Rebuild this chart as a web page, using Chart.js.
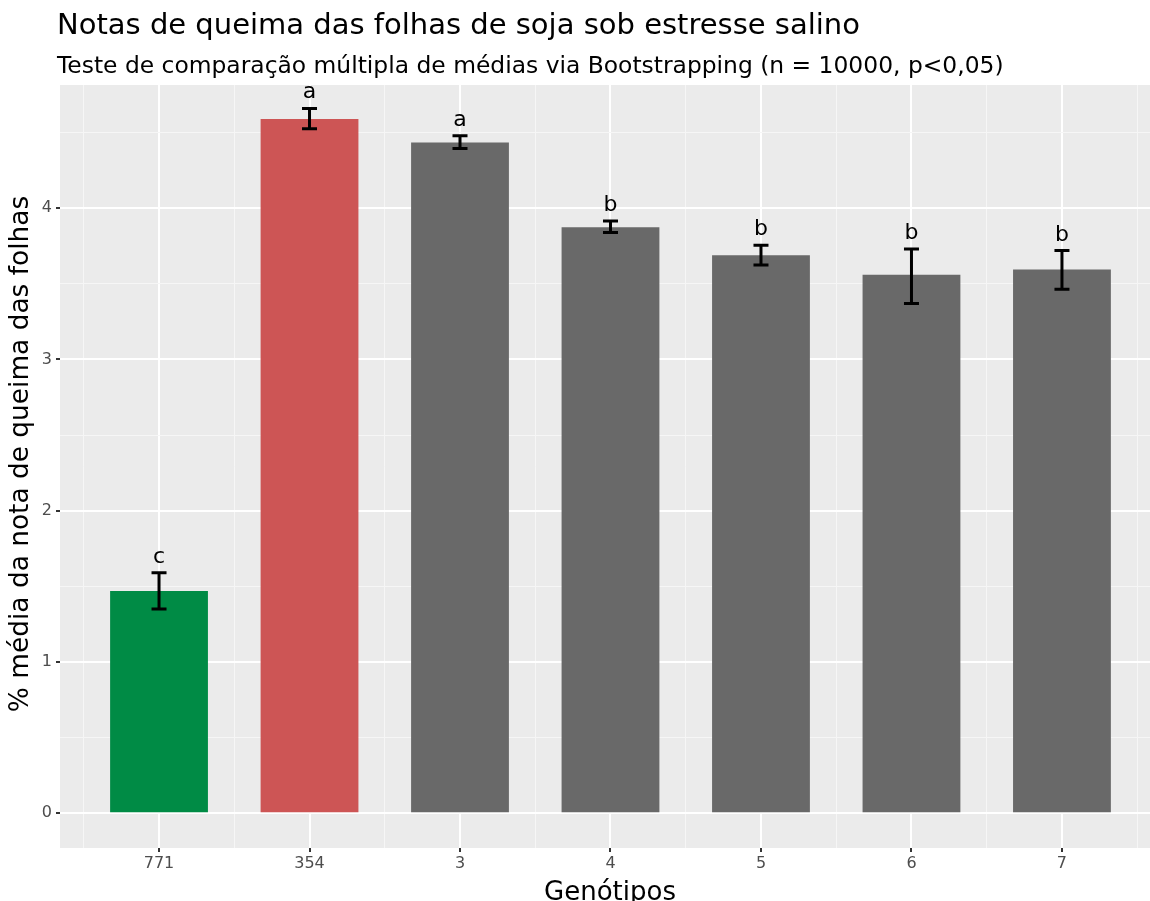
<!DOCTYPE html>
<html>
<head>
<meta charset="utf-8">
<script src="https://cdn.jsdelivr.net/npm/chart.js@4/dist/chart.umd.min.js"></script>
<style>
  html, body { margin: 0; padding: 0; background: #ffffff; }
  #wrap { width: 1150px; height: 901px; position: relative; }
</style>
</head>
<body>
<div id="wrap"><canvas id="chart" width="1150" height="901"></canvas></div>
<script>
const genotipos = ['771', '354', '3', '4', '5', '6', '7'];
const medias = [1.47, 4.59, 4.435, 3.875, 3.69, 3.56, 3.595];
const erroInf = [1.35, 4.525, 4.395, 3.84, 3.625, 3.37, 3.465];
const erroSup = [1.59, 4.66, 4.48, 3.915, 3.755, 3.73, 3.72];
const letras = ['c', 'a', 'a', 'b', 'b', 'b', 'b'];
const cores = ['#008B45', '#CD5555', '#696969', '#696969', '#696969', '#696969', '#696969'];
const yTicks = [0, 1, 2, 3, 4];

const FONT = '"DejaVu Sans", Verdana, sans-serif';

const ggplotPlugin = {
  id: 'ggplot',
  beforeDraw(chart) {
    const { ctx, chartArea: a } = chart;
    ctx.save();
    ctx.fillStyle = '#EBEBEB';
    ctx.fillRect(a.left, a.top, a.right - a.left, a.bottom - a.top);
    // titulo e subtitulo
    ctx.fillStyle = '#000000';
    ctx.textAlign = 'left';
    ctx.textBaseline = 'alphabetic';
    ctx.font = '29px ' + FONT;
    ctx.fillText('Notas de queima das folhas de soja sob estresse salino', 57, 34);
    ctx.font = '23.4px ' + FONT;
    ctx.fillText('Teste de comparação múltipla de médias via Bootstrapping (n = 10000, p<0,05)', 57, 73);
    // titulos dos eixos
    ctx.font = '26px ' + FONT;
    ctx.textAlign = 'center';
    ctx.fillText('Genótipos', 610, 900);
    ctx.translate(28, 454);
    ctx.rotate(-Math.PI / 2);
    ctx.font = '26.4px ' + FONT;
    ctx.fillText('% média da nota de queima das folhas', 0, 0);
    ctx.restore();
  },
  afterDatasetsDraw(chart) {
    const { ctx, scales } = chart;
    const xs = scales.x, ys = scales.y;
    ctx.save();
    ctx.strokeStyle = '#000000';
    ctx.lineWidth = 3;
    ctx.lineCap = 'butt';
    genotipos.forEach((g, i) => {
      const x = xs.getPixelForValue(i);
      const yLo = ys.getPixelForValue(erroInf[i]);
      const yHi = ys.getPixelForValue(erroSup[i]);
      ctx.beginPath();
      ctx.moveTo(x, yLo); ctx.lineTo(x, yHi);
      ctx.moveTo(x - 7.5, yLo); ctx.lineTo(x + 7.5, yLo);
      ctx.moveTo(x - 7.5, yHi); ctx.lineTo(x + 7.5, yHi);
      ctx.stroke();
      ctx.fillStyle = '#000000';
      ctx.font = '22px ' + FONT;
      ctx.textAlign = 'center';
      ctx.textBaseline = 'alphabetic';
      ctx.fillText(letras[i], x, yHi - 10);
    });
    ctx.restore();
  }
};

const tv = c => (c && c.tick ? c.tick.value : NaN);
const isInt = v => Math.abs(v - Math.round(v)) < 1e-6;
const isHalf = v => Math.abs(v * 2 - Math.round(v * 2)) < 1e-6;
const gridColor = c => { const v = tv(c); return isInt(v) ? '#FFFFFF' : (isHalf(v) ? '#F6F6F6' : 'rgba(0,0,0,0)'); };
const gridWidth = c => (isInt(tv(c)) ? 2 : 1);
const tickColor = c => (isInt(tv(c)) ? '#333333' : 'rgba(0,0,0,0)');

new Chart(document.getElementById('chart'), {
  type: 'bar',
  data: {
    datasets: [{
      data: medias.map((m, i) => ({ x: i, y: m })),
      backgroundColor: cores,
      borderWidth: 0,
      categoryPercentage: 1,
      barPercentage: 1.3
    }]
  },
  options: {
    responsive: false,
    animation: false,
    layout: { padding: { top: 85, right: 0, bottom: 0, left: 0 } },
    plugins: { legend: { display: false }, tooltip: { enabled: false } },
    scales: {
      x: {
        type: 'linear',
        offset: false,
        min: -0.658,
        max: 6.585,
        afterFit(s) { s.height = 53; },
        afterBuildTicks(s) {
          const t = [];
          for (let v = -0.5; v <= 6.5; v += 0.5) t.push({ value: v });
          s.ticks = t;
        },
        border: { display: false },
        grid: { offset: false, color: gridColor, lineWidth: gridWidth, tickColor: tickColor, tickLength: 4 },
        ticks: {
          autoSkip: false,
          maxRotation: 0,
          padding: 2,
          color: '#4D4D4D',
          font: { family: FONT, size: 16 },
          callback: v => isInt(v) && genotipos[Math.round(v)] !== undefined ? genotipos[Math.round(v)] : ''
        },
        title: { display: false }
      },
      y: {
        min: -0.23,
        max: 4.815,
        afterFit(s) { s.width = 60; },
        afterBuildTicks(s) {
          const t = [];
          for (let v = 0; v <= 4.5; v += 0.5) t.push({ value: v });
          s.ticks = t;
        },
        border: { display: false },
        grid: { color: gridColor, lineWidth: gridWidth, tickColor: tickColor, tickLength: 4 },
        ticks: {
          padding: 4,
          color: '#4D4D4D',
          font: { family: FONT, size: 16 },
          callback: v => yTicks.includes(v) ? String(v) : ''
        },
        title: { display: false }
      }
    }
  },
  plugins: [ggplotPlugin]
});
</script>
</body>
</html>
